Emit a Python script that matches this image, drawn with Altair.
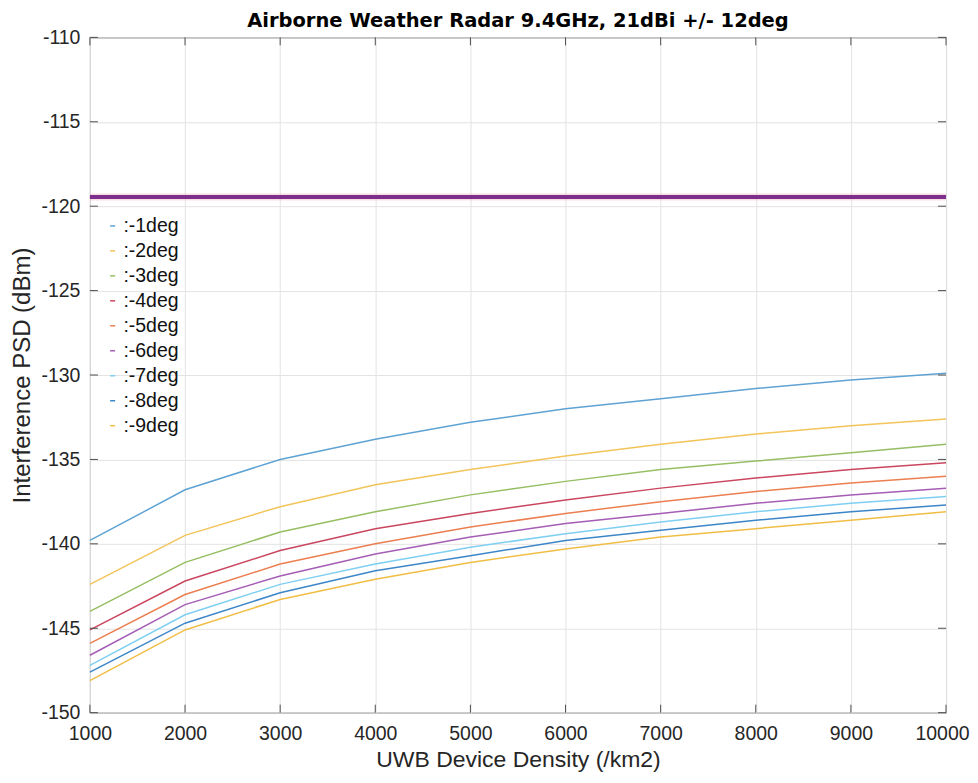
import altair as alt
import pandas as pd

densities = [1000, 2000, 3000, 4000, 5000, 6000, 7000, 8000, 9000, 10000]
deg_labels = [":-1deg", ":-2deg", ":-3deg", ":-4deg", ":-5deg",
              ":-6deg", ":-7deg", ":-8deg", ":-9deg"]
psd = [
    [-139.8, -136.8, -135.0, -133.8, -132.8, -132.0, -131.4, -130.8, -130.3, -129.9],
    [-142.4, -139.5, -137.8, -136.5, -135.6, -134.8, -134.1, -133.5, -133.0, -132.6],
    [-144.0, -141.1, -139.3, -138.1, -137.1, -136.3, -135.6, -135.1, -134.6, -134.1],
    [-145.1, -142.2, -140.4, -139.1, -138.2, -137.4, -136.7, -136.1, -135.6, -135.2],
    [-145.9, -143.0, -141.2, -140.0, -139.0, -138.2, -137.5, -136.9, -136.4, -136.0],
    [-146.6, -143.6, -141.9, -140.6, -139.6, -138.8, -138.2, -137.6, -137.1, -136.7],
    [-147.2, -144.2, -142.4, -141.2, -140.2, -139.4, -138.7, -138.1, -137.6, -137.2],
    [-147.6, -144.7, -142.9, -141.6, -140.7, -139.8, -139.2, -138.6, -138.1, -137.7],
    [-148.1, -145.1, -143.3, -142.1, -141.1, -140.3, -139.6, -139.1, -138.6, -138.1],
]
threshold = -119.45
colors = ["#5EA3D3", "#F2C45A", "#96BE62", "#C9465E", "#EB7F50",
          "#A55DB5", "#7FCFF2", "#3C86C8", "#F0BE45"]
x_ticks = [1000, 2000, 3000, 4000, 5000, 6000, 7000, 8000, 9000, 10000]
y_ticks = [-150, -145, -140, -135, -130, -125, -120, -115, -110]

FONT = "Liberation Sans"
W, H = 857, 676
TICK = 8

rows = []
for lab, vals in zip(deg_labels, psd):
    for d, v in zip(densities, vals):
        rows.append({"density": d, "psd": v, "deg": lab})
df = pd.DataFrame(rows)
df_thr = pd.DataFrame({"density": densities, "psd": [threshold] * len(densities)})
df_xt = pd.DataFrame({"t": x_ticks})
df_yt = pd.DataFrame({"t": y_ticks})

xscale = alt.Scale(domain=[1000, 10000], nice=False)
yscale = alt.Scale(domain=[-150, -110], nice=False)

xaxis = alt.Axis(values=x_ticks, title="UWB Device Density (/km2)", grid=True,
                 ticks=False, domain=False, labelFontSize=19.5, titleFontSize=23,
                 labelPadding=12, titlePadding=5, format="d",
                 labelFlush=False, titleFontWeight="normal",
                 labelOffset={"expr": "datum.value == 10000 ? -4 : 0"})
yaxis = alt.Axis(values=y_ticks, title="Interference PSD (dBm)", grid=True,
                 ticks=False, domain=False, labelFontSize=19.5, titleFontSize=24,
                 labelPadding=10, titlePadding=6, titleFontWeight="normal",
                 labelExpr="'' + datum.value")

halo = alt.Chart(df_thr).mark_line(color="#E8A0A8", strokeWidth=7, opacity=0.35).encode(
    x=alt.X("density:Q", scale=xscale, axis=xaxis),
    y=alt.Y("psd:Q", scale=yscale, axis=yaxis),
)
thr = alt.Chart(df_thr).mark_line(color="#7E2F8E", strokeWidth=4).encode(
    x=alt.X("density:Q", scale=xscale),
    y=alt.Y("psd:Q", scale=yscale),
)
curves = alt.Chart(df).mark_line(strokeWidth=1.5).encode(
    x=alt.X("density:Q", scale=xscale),
    y=alt.Y("psd:Q", scale=yscale),
    color=alt.Color("deg:N", sort=deg_labels,
                    scale=alt.Scale(domain=deg_labels, range=colors),
                    legend=alt.Legend(orient="none", legendX=13, legendY=179,
                                      title=None, symbolType="stroke",
                                      symbolSize=25, symbolStrokeWidth=1.5,
                                      labelFontSize=19.5, rowPadding=4,
                                      padding=0, labelLimit=0, labelOffset=1,
                                      labelColor="#111111")),
    detail="deg:N",
)

tick_color = "#4D4D4D"
bt = alt.Chart(df_xt).mark_rule(color=tick_color).encode(
    x=alt.X("t:Q", scale=xscale), y=alt.value(H), y2=alt.value(H - TICK))
tt = alt.Chart(df_xt).mark_rule(color=tick_color).encode(
    x=alt.X("t:Q", scale=xscale), y=alt.value(0), y2=alt.value(TICK))
lt = alt.Chart(df_yt).mark_rule(color=tick_color).encode(
    y=alt.Y("t:Q", scale=yscale), x=alt.value(0), x2=alt.value(TICK))
rt = alt.Chart(df_yt).mark_rule(color=tick_color).encode(
    y=alt.Y("t:Q", scale=yscale), x=alt.value(W - TICK), x2=alt.value(W))

chart = alt.layer(halo, thr, curves, bt, tt, lt, rt).properties(
    width=W, height=H,
    padding={"left": 2, "top": 2, "right": 0, "bottom": 0},
    title=alt.TitleParams("Airborne Weather Radar 9.4GHz, 21dBi +/- 12deg",
                          fontSize=19.5, fontWeight="bold", font="DejaVu Sans",
                          anchor="middle", offset=-4, color="#000000"),
).configure(font=FONT).configure_axis(
    labelFont=FONT, titleFont=FONT, labelColor="#262626", titleColor="#262626",
    gridColor="#E3E3E3", gridWidth=1,
).configure_legend(labelFont=FONT).configure_view(
    stroke="#4D4D4D", strokeWidth=1,
)

chart.save("out.html", embed_options={"renderer": "svg", "actions": False})
